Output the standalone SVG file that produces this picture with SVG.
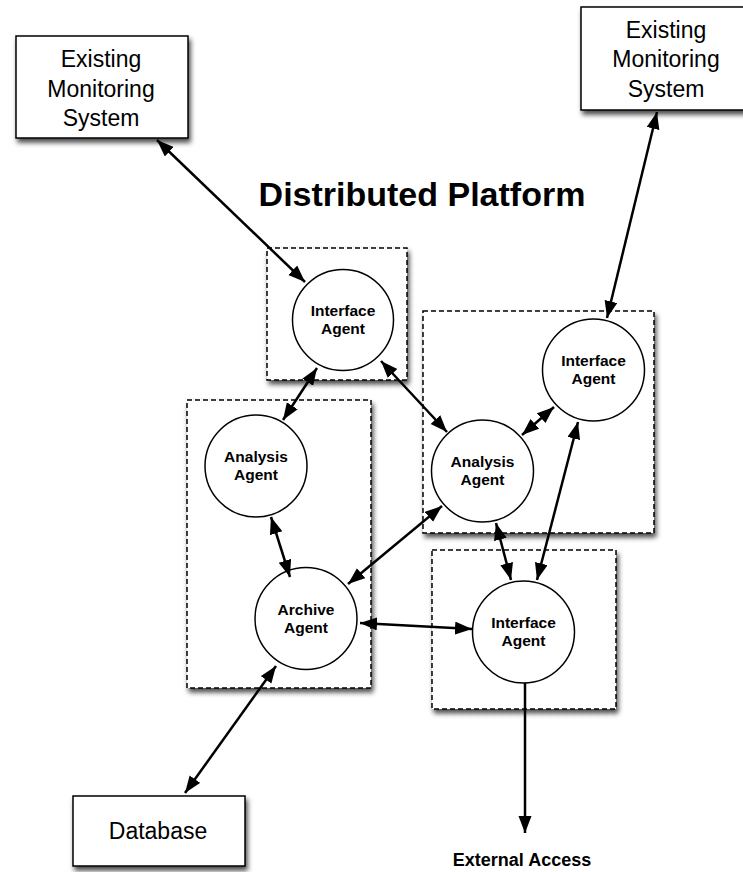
<svg xmlns="http://www.w3.org/2000/svg" width="743" height="872" viewBox="0 0 743 872">
<defs>
<filter id="sh" x="-10%" y="-10%" width="130%" height="130%">
<feDropShadow dx="2" dy="4" stdDeviation="2.5" flood-color="#000" flood-opacity="0.7"/>
</filter>
<marker id="ah" markerUnits="userSpaceOnUse" markerWidth="18" markerHeight="14" refX="17" refY="6.5" orient="auto-start-reverse">
<path d="M0,0 L17,6.5 L0,13 z" fill="#000"/>
</marker>
<style>
.box{fill:#fff;stroke:#000;stroke-width:1.5;filter:url(#sh)}
.dash{fill:#fff;stroke:#000;stroke-width:1.5;stroke-dasharray:5,3;filter:url(#sh)}
.ag{fill:#fff;stroke:#000;stroke-width:1.5}
.t{font-family:"Liberation Sans",Arial,sans-serif;font-size:23px;text-anchor:middle;fill:#000}
.at{font-family:"Liberation Sans",Arial,sans-serif;font-size:15.5px;font-weight:bold;text-anchor:middle;fill:#000}
.c{fill:none;stroke:#000;stroke-width:2.5;marker-start:url(#ah);marker-end:url(#ah)}
.c1{fill:none;stroke:#000;stroke-width:2.5;marker-end:url(#ah)}
</style>
</defs>
<g id="platforms">
<rect id="platformA" class="dash" x="267" y="248" width="140" height="132"/>
<rect id="platformB" class="dash" x="423" y="311" width="231" height="222"/>
<rect id="platformC" class="dash" x="187" y="400" width="184" height="288"/>
<rect id="platformD" class="dash" x="432" y="550" width="184" height="159"/>
</g>
<g id="ems1">
<rect class="box" x="16" y="36" width="172" height="102"/>
<text class="t" x="101" y="67">Existing</text>
<text class="t" x="101" y="96.5">Monitoring</text>
<text class="t" x="101" y="126">System</text>
</g>
<g id="ems2">
<rect class="box" x="581" y="7" width="172" height="103"/>
<text class="t" x="666" y="37.5">Existing</text>
<text class="t" x="666" y="67">Monitoring</text>
<text class="t" x="666" y="96.5">System</text>
</g>
<g id="database">
<rect class="box" x="73" y="796" width="172" height="70"/>
<text class="t" x="158" y="839">Database</text>
</g>
<g id="title">
<text x="422" y="206" style="font-family:'Liberation Sans',Arial,sans-serif;font-size:34px;font-weight:bold;text-anchor:middle">Distributed Platform</text>
</g>
<g id="external">
<text x="522" y="866" style="font-family:'Liberation Sans',Arial,sans-serif;font-size:18px;font-weight:bold;text-anchor:middle">External Access</text>
</g>
<g id="interfaceA">
<circle class="ag" cx="343" cy="320" r="50.5"/>
<text class="at" x="343" y="315.5">Interface</text>
<text class="at" x="343" y="333.5">Agent</text>
</g>
<g id="interfaceB">
<circle class="ag" cx="593.5" cy="370" r="51"/>
<text class="at" x="593.5" y="365.5">Interface</text>
<text class="at" x="593.5" y="383.5">Agent</text>
</g>
<g id="analysisB">
<circle class="ag" cx="482.5" cy="471" r="51"/>
<text class="at" x="482.5" y="466.5">Analysis</text>
<text class="at" x="482.5" y="484.5">Agent</text>
</g>
<g id="analysisC">
<circle class="ag" cx="256" cy="466" r="51"/>
<text class="at" x="256" y="461.5">Analysis</text>
<text class="at" x="256" y="479.5">Agent</text>
</g>
<g id="archiveC">
<circle class="ag" cx="306" cy="618.5" r="51"/>
<text class="at" x="306" y="614.5">Archive</text>
<text class="at" x="306" y="632.5">Agent</text>
</g>
<g id="interfaceD">
<circle class="ag" cx="523.5" cy="632" r="51"/>
<text class="at" x="523.5" y="627.5">Interface</text>
<text class="at" x="523.5" y="645.5">Agent</text>
</g>
<g id="connectors">
<line class="c" x1="157" y1="140" x2="305" y2="282"/>
<line class="c" x1="657" y1="112" x2="607" y2="318"/>
<line class="c" x1="317" y1="368" x2="283" y2="420"/>
<line class="c" x1="381" y1="361" x2="447" y2="432"/>
<line class="c" x1="554" y1="407" x2="522" y2="435"/>
<line class="c" x1="271" y1="517" x2="290" y2="577"/>
<line class="c" x1="442" y1="506" x2="348" y2="584"/>
<line class="c" x1="360" y1="623" x2="472" y2="629"/>
<line class="c" x1="578" y1="422" x2="537" y2="580"/>
<line class="c" x1="496" y1="523" x2="511" y2="580"/>
<line class="c" x1="276" y1="666" x2="185" y2="793"/>
<line class="c1" x1="525" y1="683" x2="525" y2="833"/>
</g>
</svg>
